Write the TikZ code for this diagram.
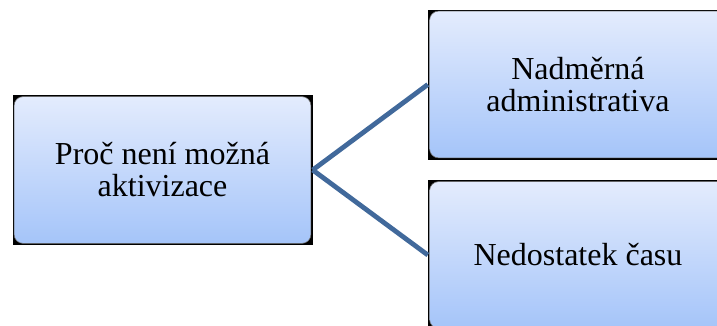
\documentclass[tikz,border=0pt]{standalone}
\usepackage{fontspec}
\setmainfont{Liberation Serif}
\begin{document}
\begin{tikzpicture}[x=1pt,y=1pt,
  box/.style={
    rectangle, fill=black, minimum width=300pt, minimum height=150pt,
    inner sep=0pt, align=center,
    font=\fontsize{32}{32}\selectfont,
    path picture={
      \shade[top color={rgb,255:red,228;green,236;blue,253},
             bottom color={rgb,255:red,164;green,196;blue,249},
             draw={rgb,255:red,110;green,110;blue,110}, line width=0.6pt,
             rounded corners=9pt]
        ([shift={(1.6pt,-1.6pt)}]path picture bounding box.north west)
        rectangle
        ([shift={(-1.6pt,1.6pt)}]path picture bounding box.south east);
    }},
  link/.style={draw={rgb,255:red,65;green,105;blue,155}, line width=4.8pt}]
\useasboundingbox (0,0) rectangle (717,325);
\begin{scope}
\clip (0,0) rectangle (717,325);
\node[box] (cause) at (162.5,155) {Proč není možná\\aktivizace};
\node[box] (admin) at (578,240.5) {Nadměrná\\administrativa};
\node[box] (time)  at (578,70) {Nedostatek času};
\draw[link] (cause.east) -- (admin.west);
\draw[link] (cause.east) -- (time.west);
\end{scope}
\end{tikzpicture}
\end{document}
